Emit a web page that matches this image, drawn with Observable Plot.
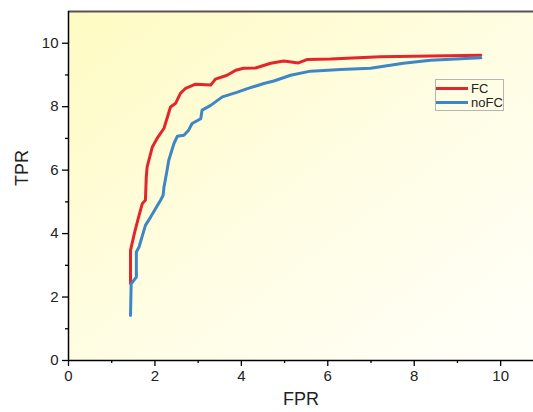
<!DOCTYPE html>
<html><head><meta charset="utf-8">
<script src="https://cdn.jsdelivr.net/npm/d3@7"></script>
<script src="https://cdn.jsdelivr.net/npm/@observablehq/plot@0.6"></script>
<style>
body{margin:0;background:#fff;}
#wrap{position:relative;width:533px;height:412px;font-family:"Liberation Sans",Arial,sans-serif;}
#legend{position:absolute;left:435px;top:79px;width:69px;height:32px;border:1px solid #b5b5b5;box-sizing:border-box;font-size:13px;color:#222;}
#legend .row{position:absolute;left:0;height:14px;display:flex;align-items:center;}
#legend .sw{width:32px;height:3px;margin-right:3px;}
</style></head><body><div id="wrap"></div>
<script>
// FC series (red)
const fcX = [1.435,1.435,1.53,1.62,1.71,1.78,1.80,1.82,1.94,2.05,2.21,2.36,2.48,2.59,2.71,2.94,3.29,3.40,3.67,3.87,4.05,4.33,4.68,4.98,5.32,5.53,6.06,7.22,9.54];
const fcY = [2.43,3.47,4.04,4.51,4.95,5.05,5.78,6.10,6.73,7.00,7.32,7.99,8.11,8.42,8.58,8.71,8.68,8.87,8.99,9.15,9.21,9.22,9.37,9.44,9.38,9.49,9.50,9.57,9.62];
// noFC series (blue)
const nofcX = [1.435,1.45,1.57,1.57,1.63,1.78,1.90,2.13,2.19,2.21,2.28,2.32,2.44,2.52,2.67,2.78,2.86,3.06,3.09,3.29,3.56,3.91,4.14,4.52,4.75,5.14,5.60,6.30,6.99,7.75,8.38,9.54];
const nofcY = [1.42,2.42,2.63,3.42,3.57,4.26,4.52,5.05,5.21,5.47,5.99,6.31,6.84,7.07,7.10,7.26,7.47,7.62,7.89,8.04,8.31,8.46,8.57,8.73,8.81,8.99,9.12,9.17,9.21,9.37,9.46,9.54];

const seriesNames = ["FC","noFC"];
const seriesColors = ["#e2262b","#3e86c4"];
const xMajorTicks = [0,2,4,6,8,10];
const xMinorTicks = [1,3,5,7,9];
const yMajorTicks = [0,2,4,6,8,10];
const yMinorTicks = [1,3,5,7,9];
const xLabel = "FPR";
const yLabel = "TPR";
const xDomain = [0,10.76];
const yDomain = [0,11];

const data = [
  ...fcX.map((x,i)=>({series:"FC",x,y:fcY[i]})),
  ...nofcX.map((x,i)=>({series:"noFC",x,y:nofcY[i]}))
];

const plot = Plot.plot({
  width:533, height:412,
  marginLeft:68, marginRight:0, marginTop:11, marginBottom:52,
  x:{domain:xDomain}, y:{domain:yDomain},
  color:{domain:seriesNames, range:seriesColors},
  style:{fontFamily:"'Liberation Sans', Arial, sans-serif", color:"#222", background:"transparent"},
  marks:[
    Plot.frame({fill:"url(#bgGrad)", stroke:"none"}),
    Plot.ruleY([yDomain[1]], {stroke:"#555", strokeWidth:2}),
    Plot.axisX({ticks:xMajorTicks, tickSize:6, tickPadding:4, fontSize:15, label:null, stroke:"#000", strokeWidth:1.3}),
    Plot.axisX({ticks:xMinorTicks, tickSize:3, tickFormat:()=>"", label:null, stroke:"#000", strokeWidth:1.3}),
    Plot.axisY({ticks:yMajorTicks, tickSize:6, tickPadding:4, fontSize:15, label:null, stroke:"#000", strokeWidth:1.3}),
    Plot.axisY({ticks:yMinorTicks, tickSize:3, tickFormat:()=>"", label:null, stroke:"#000", strokeWidth:1.3}),
    Plot.ruleX([0], {stroke:"#000", strokeWidth:1.5}),
    Plot.ruleY([0], {stroke:"#000", strokeWidth:1.5}),
    Plot.line(data, {x:"x", y:"y", stroke:"series", z:"series", strokeWidth:3}),
    Plot.text([xLabel], {frameAnchor:"bottom", dy:44, fontSize:18, fill:"#222"}),
    Plot.text([yLabel], {frameAnchor:"left", dx:-46, rotate:-90, fontSize:18, fill:"#222"})
  ]
});

const svg = d3.select(plot);
const defs = svg.insert("defs", ":first-child");
const grad = defs.append("linearGradient").attr("id","bgGrad")
  .attr("x1","0").attr("y1","0").attr("x2","1").attr("y2","1");
grad.append("stop").attr("offset","0%").attr("stop-color","#fefbc2");
grad.append("stop").attr("offset","50%").attr("stop-color","#fffde2");
grad.append("stop").attr("offset","100%").attr("stop-color","#fffffa");

const wrap = document.getElementById("wrap");
wrap.appendChild(plot);

const legend = document.createElement("div");
legend.id = "legend";
seriesNames.forEach((name,i)=>{
  const row = document.createElement("div");
  row.className = "row";
  row.style.top = (i===0 ? 1 : 15) + "px";
  const sw = document.createElement("div");
  sw.className = "sw";
  sw.style.background = seriesColors[i];
  const t = document.createElement("span");
  t.textContent = name;
  row.appendChild(sw); row.appendChild(t);
  legend.appendChild(row);
});
wrap.appendChild(legend);
</script>
</body></html>
